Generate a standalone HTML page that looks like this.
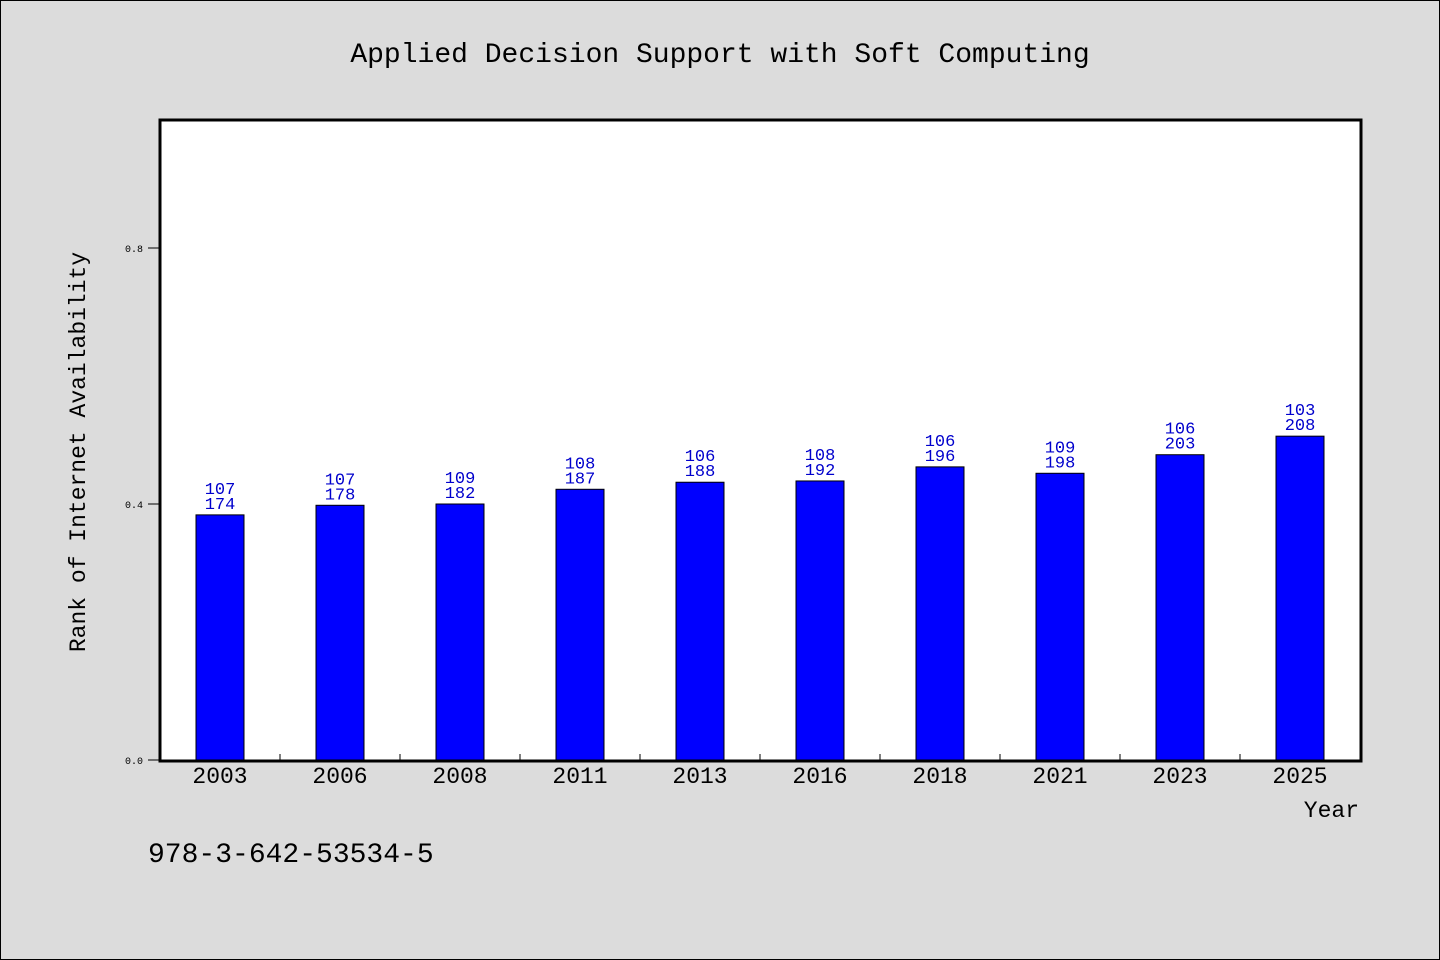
<!DOCTYPE html>
<html><head><meta charset="utf-8"><style>
html,body{margin:0;padding:0;background:#dcdcdc;}
svg{display:block;}
text{font-family:"Liberation Mono","WenQuanYi Zen Hei",monospace;}
</style></head><body>
<svg id="chart" width="1440" height="960" viewBox="0 0 1440 960">
<rect x="0.5" y="0.5" width="1439" height="959" fill="#dcdcdc" stroke="#000"/>
<text x="720" y="62" text-anchor="middle" font-size="28" fill="#000">Applied Decision Support with Soft Computing</text>
<rect x="160" y="120" width="1201" height="641" fill="#fff" stroke="#000" stroke-width="3"/>
<text transform="translate(85,452) rotate(-90)" text-anchor="middle" font-size="23" fill="#000">Rank of Internet Availability</text>
<text x="1359" y="817" text-anchor="end" font-size="23" fill="#000">Year</text>
<text x="148" y="862" font-size="28" fill="#000" font-family="Liberation Sans,sans-serif">978-3-642-53534-5</text>
<g id="marks"></g>
</svg>
<script>
const categories = ["2003","2006","2008","2011","2013","2016","2018","2021","2023","2025"];
const values = [0.383,0.398,0.400,0.423,0.434,0.436,0.458,0.448,0.477,0.506];
const topLabels = ["107","107","109","108","106","108","106","109","106","103"];
const bottomLabels = ["174","178","182","187","188","192","196","198","203","208"];
const yTicks = [0.0,0.4,0.8];
const yTickLabels = ["0.0","0.4","0.8"];

const X0=160, X1=1360, Y0=760, Y1=120, YMAX=1.0;
const slot=(X1-X0)/categories.length;
const xc=i=>X0+slot*(i+0.5);
const y=v=>Y0-(v/YMAX)*(Y0-Y1);
const NS="http://www.w3.org/2000/svg";
const g=document.getElementById('marks');
function mk(tag,attrs){const e=document.createElementNS(NS,tag);for(const k in attrs)e.setAttribute(k,attrs[k]);g.appendChild(e);return e;}

yTicks.forEach((t,i)=>{
  const l=mk('line',{x1:148,x2:160,y1:y(t),y2:y(t),stroke:'#000','stroke-width':1});
  
  
  const tx=mk('text',{x:143,y:y(t)+4,'text-anchor':'end','font-size':10,fill:'#000','font-family':'Liberation Sans,sans-serif'});
  tx.textContent=yTickLabels[i];
  
  
});
for(let i=1;i<categories.length;i++){
  const l=mk('line',{x1:X0+slot*i,x2:X0+slot*i,y1:754,y2:760,stroke:'#000','stroke-width':1});
  
  
}
const bw=48;
categories.forEach((c,i)=>{
  const b=mk('rect',{x:xc(i)-bw/2,y:y(values[i]),width:bw,height:Y0-y(values[i]),fill:'#0000ff',stroke:'#000','stroke-width':1});
  
  
  const t1=mk('text',{x:xc(i),y:y(values[i])-21,'text-anchor':'middle','font-size':17,fill:'#0000cc','font-family':'Liberation Sans,sans-serif'});
  t1.textContent=topLabels[i];
  
  
  const t2=mk('text',{x:xc(i),y:y(values[i])-6,'text-anchor':'middle','font-size':17,fill:'#0000cc','font-family':'Liberation Sans,sans-serif'});
  t2.textContent=bottomLabels[i];
  
  
  const xl=mk('text',{x:xc(i),y:783,'text-anchor':'middle','font-size':23,fill:'#000','font-family':'Liberation Sans,sans-serif'});
  xl.textContent=c;
  
  
});
</script>
</body></html>
